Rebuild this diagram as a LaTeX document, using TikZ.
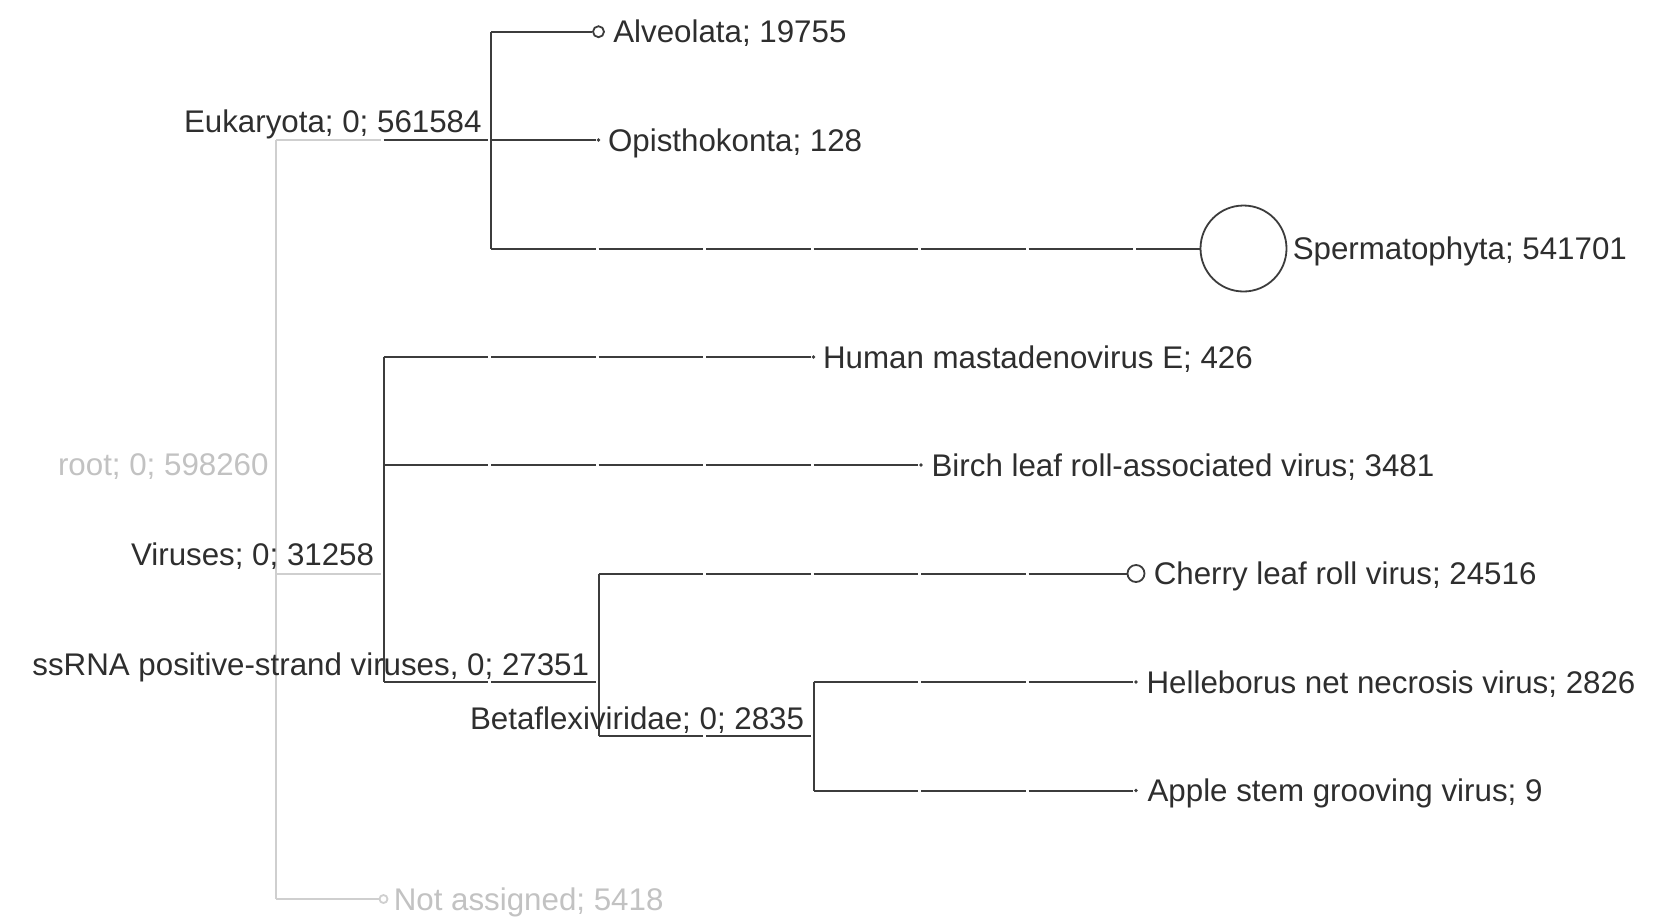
\documentclass[tikz,border=0pt]{standalone}
\usepackage{fontspec}
\setmainfont{Liberation Sans}
\definecolor{edgecol}{HTML}{3C3C3C}
\definecolor{txtcol}{HTML}{2E2E2E}
\definecolor{rootcol}{HTML}{CFCFCF}
\definecolor{rootlbl}{HTML}{C2C2C2}
\newcommand\treefont{\fontsize{15.65pt}{18pt}\selectfont}
\begin{document}
\begin{tikzpicture}[x=0.5pt,y=-0.5pt,
  edge/.style={draw=edgecol, line width=1pt, dash pattern=on 52.25pt off 1.5pt},
  vline/.style={draw=edgecol, line width=1pt},
  tip/.style={circle, fill=edgecol, inner sep=0pt, minimum size=1.8pt},
  ring/.style={circle, draw=edgecol, line width=0.9pt, inner sep=0pt, minimum size=#1},
  leaflabel/.style={anchor=base west, inner sep=0pt, text=txtcol, font=\treefont},
  innerlabel/.style={anchor=base east, inner sep=0pt, text=txtcol, font=\treefont},
]
\useasboundingbox (0,0) rectangle (1655,918);
\fill[white] (0,0) rectangle (1655,918);

% tree nodes (levels 107.5 apart, rows 108.4 apart)
\coordinate (root) at (276,465);
\coordinate (euk)  at (491,140);
\coordinate (vir)  at (383.5,573.5);
\coordinate (ss)   at (598.5,682);
\coordinate (beta) at (813.5,736);

% leaf markers
\node[ring=5.5pt] (alv)  at (598.5,31.7) {};
\node[tip]        (opi)  at (598.5,140) {};
\node[ring=43pt]  (sper) at (1243.5,248.5) {};
\node[tip]        (hum)  at (813.5,357) {};
\node[tip]        (bir)  at (921,465) {};
\node[ring=8.5pt] (che)  at (1136,573.5) {};
\node[tip]        (hel)  at (1136,682) {};
\node[tip]        (app)  at (1136,790.5) {};
\node[ring=4pt, draw=rootcol] (na) at (383.5,899) {};

% root and its first steps
\draw[vline, draw=rootcol] (root |- euk) -- (root |- na);
\draw[edge, draw=rootcol] (root |- euk) -- (vir |- euk);
\draw[edge] (vir |- euk) -- (euk);
\draw[edge, draw=rootcol] (root |- vir) -- (vir);
\draw[edge, draw=rootcol] (root |- na) -- (na);

% Eukaryota
\draw[vline] (euk |- alv) -- (euk |- sper);
\draw[edge] (euk |- alv) -- (alv);
\draw[edge] (euk) -- (opi);
\draw[edge] (euk |- sper) -- (sper);

% Viruses
\draw[vline] (vir |- hum) -- (vir |- ss);
\draw[edge] (vir |- hum) -- (hum);
\draw[edge] (vir |- bir) -- (bir);
\draw[edge] (vir |- ss) -- (ss);

% ssRNA positive-strand viruses
\draw[vline] (ss |- che) -- (ss |- beta);
\draw[edge] (ss |- che) -- (che);
\draw[edge] (ss |- beta) -- (beta);

% Betaflexiviridae
\draw[vline] (beta |- hel) -- (beta |- app);
\draw[edge] (beta |- hel) -- (hel);
\draw[edge] (beta |- app) -- (app);

% internal labels
\node[innerlabel, text=rootlbl] (rootL) at ([xshift=-3.5pt,yshift=-5pt]root) {root; 0; 598260};
\node[innerlabel] (eukL)  at ([xshift=-4.5pt,yshift=3.75pt]euk)  {Eukaryota; 0; 561584};
\node[innerlabel] (virL)  at ([xshift=-4.5pt,yshift=4pt]vir)   {Viruses; 0; 31258};
\node[innerlabel] (ssL)   at ([xshift=-4.5pt,yshift=3.5pt]ss)  {ssRNA positive-strand viruses, 0; 27351};
\node[innerlabel] (betaL) at ([xshift=-4.5pt,yshift=3.25pt]beta) {Betaflexiviridae; 0; 2835};

% leaf labels
\node[leaflabel] (alvL)  at ([xshift=4pt,yshift=-5.5pt]alv.east)  {Alveolata; 19755};
\node[leaflabel] (opiL)  at ([xshift=3.5pt,yshift=-5.5pt]opi.east)  {Opisthokonta; 128};
\node[leaflabel] (sperL) at ([xshift=2.5pt,yshift=-5.5pt]sper.east) {Spermatophyta; 541701};
\node[leaflabel] (humL)  at ([xshift=3.5pt,yshift=-5.5pt]hum.east)  {Human mastadenovirus E; 426};
\node[leaflabel] (birL)  at ([xshift=4pt,yshift=-5.5pt]bir.east)  {Birch leaf roll-associated virus; 3481};
\node[leaflabel] (cheL)  at ([xshift=4pt,yshift=-5.5pt]che.east)  {Cherry leaf roll virus; 24516};
\node[leaflabel] (helL)  at ([xshift=4pt,yshift=-5.5pt]hel.east)  {Helleborus net necrosis virus; 2826};
\node[leaflabel] (appL)  at ([xshift=4.5pt,yshift=-5.5pt]app.east)  {Apple stem grooving virus; 9};
\node[leaflabel, text=rootlbl] (naL) at ([xshift=2.5pt,yshift=-5.5pt]na.east) {Not assigned; 5418};
\end{tikzpicture}
\end{document}
